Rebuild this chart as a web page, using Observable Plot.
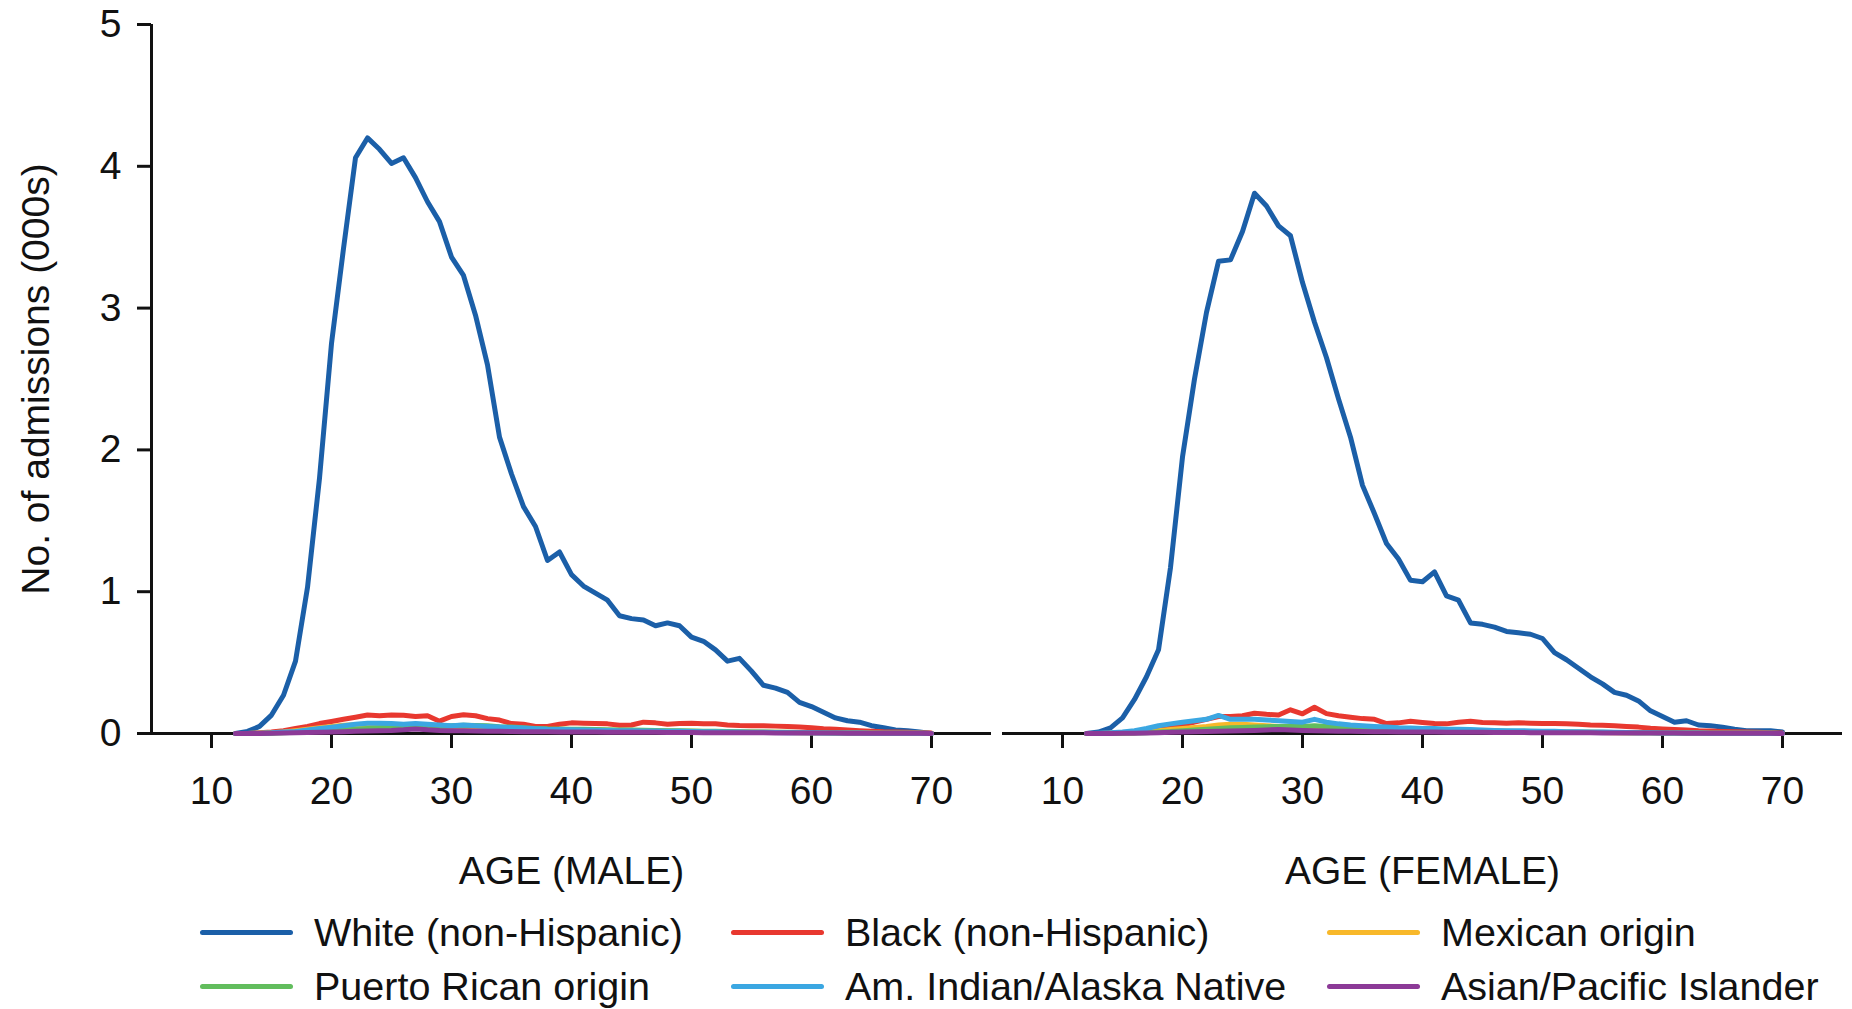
<!DOCTYPE html>
<html>
<head>
<meta charset="utf-8">
<script src="https://cdn.jsdelivr.net/npm/d3@7"></script>
<script src="https://cdn.jsdelivr.net/npm/@observablehq/plot@0.6"></script>
<style>
  html, body { margin: 0; padding: 0; background: #fff; }
  body { font-family: "Liberation Sans", Arial, Helvetica, sans-serif; color: #111; width: 1852px; }
  #chart svg { display: block; }
  #legend {
    display: grid;
    grid-template-columns: 531px 596px 1fr;
    grid-auto-rows: 54px;
    padding-left: 200px;
    padding-top: 10px;
    font-size: 39.5px;
  }
  #legend .item { display: flex; align-items: center; white-space: nowrap; line-height: 54px; }
  #legend .sw { display: inline-block; width: 93px; height: 5px; border-radius: 3px; margin-right: 21px; }
</style>
</head>
<body>
<div id="chart"></div>
<div id="legend"></div>
<script>
// ---- Data ----
const ages = [12,13,14,15,16,17,18,19,20,21,22,23,24,25,26,27,28,29,30,31,32,33,34,35,36,37,38,39,40,41,
              42,43,44,45,46,47,48,49,50,51,52,53,54,55,56,57,58,59,60,61,62,63,64,65,66,67,68,69,70];
const panels = ["MALE", "FEMALE"];
const groups = ["White (non-Hispanic)", "Black (non-Hispanic)", "Mexican origin",
                "Puerto Rican origin", "Am. Indian/Alaska Native", "Asian/Pacific Islander"];
const colors = ["#1b5fa8", "#e8382f", "#f8b82a", "#62bd5d", "#3ba7e2", "#8c3a97"];
const xTicks = [10, 20, 30, 40, 50, 60, 70];
const yTicks = [0, 1, 2, 3, 4, 5];
const xDomain = [5, 75];
const yDomain = [0, 5];

// values in thousands, ages 12..70
const maleWhite = [0,0.015,0.05,0.13,0.27,0.51,1.03,1.8,2.75,3.42,
  4.06,4.2,4.12,4.02,4.06,3.92,3.75,3.61,3.36,3.23,
  2.95,2.6,2.09,1.83,1.6,1.46,1.22,1.28,1.12,1.04,
  0.99,0.94,0.83,0.81,0.8,0.76,0.78,0.76,0.68,0.65,
  0.59,0.51,0.53,0.44,0.34,0.32,0.29,0.22,0.19,0.15,
  0.11,0.09,0.08,0.055,0.04,0.025,0.02,0.01,0];
const maleBlack = [0,0,0.005,0.01,0.02,0.035,0.05,0.07,0.085,0.1,
  0.115,0.13,0.125,0.13,0.128,0.12,0.125,0.087,0.12,0.132,
  0.125,0.105,0.095,0.07,0.065,0.05,0.05,0.065,0.075,0.072,
  0.07,0.068,0.058,0.06,0.08,0.075,0.065,0.07,0.072,0.068,
  0.068,0.06,0.056,0.055,0.055,0.052,0.05,0.045,0.04,0.033,
  0.03,0.025,0.02,0.016,0.012,0.01,0.008,0.005,0.003];
const maleMexican = [0,0,0.002,0.005,0.01,0.02,0.03,0.04,0.05,0.058,
  0.062,0.06,0.058,0.055,0.052,0.05,0.047,0.044,0.042,0.04,
  0.038,0.036,0.034,0.032,0.03,0.028,0.027,0.026,0.025,0.024,
  0.023,0.022,0.021,0.02,0.019,0.018,0.017,0.016,0.015,0.014,
  0.013,0.012,0.011,0.01,0.009,0.008,0.007,0.006,0.006,0.005,
  0.004,0.004,0.003,0.003,0.002,0.002,0.001,0.001,0];
const malePuertoRican = [0,0,0,0.002,0.005,0.008,0.012,0.016,0.02,0.025,
  0.03,0.035,0.04,0.045,0.048,0.052,0.055,0.05,0.055,0.058,
  0.056,0.054,0.048,0.045,0.04,0.036,0.033,0.032,0.03,0.03,
  0.028,0.027,0.025,0.024,0.023,0.022,0.02,0.019,0.018,0.016,
  0.015,0.014,0.012,0.011,0.01,0.009,0.008,0.007,0.006,0.005,
  0.004,0.004,0.003,0.002,0.002,0.001,0.001,0.001,0];
const maleAmIndian = [0,0,0.002,0.005,0.01,0.015,0.025,0.035,0.045,0.055,
  0.065,0.072,0.072,0.07,0.066,0.07,0.065,0.06,0.055,0.06,
  0.055,0.05,0.046,0.042,0.038,0.034,0.03,0.028,0.026,0.025,
  0.023,0.022,0.02,0.019,0.018,0.017,0.016,0.015,0.014,0.013,
  0.012,0.011,0.01,0.009,0.008,0.007,0.006,0.006,0.005,0.004,
  0.004,0.003,0.003,0.002,0.002,0.001,0.001,0.001,0];
const maleAsian = [0,0,0,0.002,0.003,0.005,0.007,0.009,0.011,0.013,
  0.015,0.018,0.02,0.022,0.026,0.032,0.026,0.022,0.02,0.02,
  0.018,0.016,0.015,0.014,0.013,0.012,0.012,0.011,0.01,0.01,
  0.01,0.009,0.009,0.008,0.008,0.008,0.007,0.007,0.007,0.006,
  0.006,0.006,0.005,0.005,0.005,0.004,0.004,0.004,0.003,0.003,
  0.003,0.002,0.002,0.002,0.002,0.001,0.001,0.001,0];

const femaleWhite = [0,0.01,0.04,0.11,0.24,0.4,0.59,1.17,1.95,2.5,
  2.97,3.33,3.34,3.54,3.81,3.72,3.58,3.51,3.18,2.9,
  2.65,2.36,2.09,1.75,1.55,1.34,1.23,1.08,1.07,1.14,
  0.97,0.94,0.78,0.77,0.75,0.72,0.71,0.7,0.67,0.57,
  0.52,0.46,0.4,0.35,0.29,0.27,0.23,0.16,0.12,0.08,
  0.09,0.06,0.055,0.045,0.03,0.02,0.02,0.02,0.01];
const femaleBlack = [0,0,0.002,0.005,0.01,0.02,0.03,0.045,0.06,0.08,
  0.1,0.12,0.12,0.125,0.143,0.135,0.13,0.167,0.139,0.185,
  0.14,0.125,0.115,0.105,0.1,0.07,0.075,0.087,0.078,0.07,
  0.068,0.08,0.087,0.078,0.075,0.073,0.075,0.073,0.07,0.07,
  0.068,0.065,0.06,0.058,0.055,0.05,0.045,0.037,0.032,0.028,
  0.025,0.02,0.017,0.014,0.012,0.01,0.008,0.005,0.003];
const femaleMexican = [0,0,0.001,0.003,0.006,0.012,0.02,0.028,0.035,0.043,
  0.05,0.06,0.065,0.065,0.06,0.055,0.05,0.046,0.043,0.042,
  0.038,0.035,0.032,0.03,0.028,0.026,0.024,0.022,0.02,0.019,
  0.018,0.017,0.016,0.015,0.014,0.013,0.012,0.011,0.01,0.01,
  0.009,0.008,0.008,0.007,0.006,0.006,0.005,0.005,0.004,0.004,
  0.003,0.003,0.002,0.002,0.002,0.001,0.001,0.001,0];
const femalePuertoRican = [0,0,0,0.002,0.004,0.006,0.01,0.014,0.02,0.025,
  0.03,0.035,0.04,0.042,0.045,0.048,0.05,0.052,0.05,0.055,
  0.05,0.046,0.04,0.036,0.034,0.03,0.028,0.026,0.025,0.024,
  0.022,0.02,0.019,0.018,0.017,0.016,0.014,0.013,0.012,0.011,
  0.01,0.009,0.008,0.008,0.007,0.006,0.005,0.005,0.004,0.004,
  0.003,0.003,0.002,0.002,0.001,0.001,0.001,0.001,0];
const femaleAmIndian = [0,0.002,0.005,0.01,0.02,0.035,0.055,0.068,0.08,0.09,
  0.1,0.127,0.1,0.1,0.1,0.095,0.09,0.085,0.08,0.1,
  0.08,0.068,0.06,0.055,0.05,0.045,0.04,0.038,0.035,0.035,
  0.03,0.03,0.028,0.025,0.022,0.02,0.02,0.018,0.016,0.015,
  0.013,0.012,0.01,0.01,0.008,0.007,0.006,0.005,0.004,0.004,
  0.003,0.003,0.002,0.002,0.002,0.001,0.001,0.001,0];
const femaleAsian = [0,0,0,0.001,0.002,0.004,0.006,0.008,0.01,0.012,
  0.014,0.016,0.018,0.02,0.022,0.025,0.028,0.025,0.022,0.02,
  0.018,0.016,0.015,0.014,0.013,0.012,0.011,0.01,0.01,0.01,
  0.009,0.009,0.008,0.008,0.007,0.007,0.007,0.006,0.006,0.006,
  0.005,0.005,0.005,0.004,0.004,0.004,0.003,0.003,0.003,0.003,
  0.002,0.002,0.002,0.002,0.001,0.001,0.001,0.001,0];

// ---- Build tidy table for Plot ----
const table = [
  ["MALE", groups[0], maleWhite], ["MALE", groups[1], maleBlack], ["MALE", groups[2], maleMexican],
  ["MALE", groups[3], malePuertoRican], ["MALE", groups[4], maleAmIndian], ["MALE", groups[5], maleAsian],
  ["FEMALE", groups[0], femaleWhite], ["FEMALE", groups[1], femaleBlack], ["FEMALE", groups[2], femaleMexican],
  ["FEMALE", groups[3], femalePuertoRican], ["FEMALE", groups[4], femaleAmIndian], ["FEMALE", groups[5], femaleAsian]
];
const rows = [];
for (const [sex, group, vals] of table) vals.forEach((v, i) => rows.push({sex, group, age: ages[i], value: v}));

const FONT = "Liberation Sans, Arial, Helvetica, sans-serif";
const FS = 39;
const chart = Plot.plot({
  width: 1852,
  height: 895,
  marginTop: 24,
  marginBottom: 162,
  marginLeft: 151,
  marginRight: 10,
  style: {fontFamily: FONT, fontSize: FS + "px", color: "#111", background: "#fff"},
  fx: {domain: panels, padding: 0.013, axis: null},
  x: {domain: xDomain, label: null},
  y: {domain: yDomain, label: null},
  color: {domain: groups, range: colors},
  marks: [
    Plot.axisX({ticks: xTicks, tickFormat: d => String(d), tickSize: 15, tickPadding: 28, strokeWidth: 3, label: null, fontSize: FS}),
    Plot.axisY({ticks: yTicks, tickFormat: d => String(d), tickSize: 14, tickPadding: 16, strokeWidth: 3, label: null, fontSize: FS}),
    Plot.ruleY([0], {strokeWidth: 3, stroke: "#111"}),
    Plot.ruleX([xDomain[0]], {y1: yDomain[0], y2: yDomain[1], fx: ["MALE"], strokeWidth: 3, stroke: "#111"}),
    Plot.line(rows, {x: "age", y: "value", z: "group", stroke: "group", fx: "sex", strokeWidth: 5, strokeLinejoin: "round"}),
    Plot.text(panels, {fx: d => d, text: d => `AGE (${d})`, frameAnchor: "bottom", dy: 150, fontSize: FS}),
    Plot.text(["No. of admissions (000s)"], {fx: ["MALE"], frameAnchor: "left", textAnchor: "middle", rotate: -90, dx: -115, fontSize: FS})
  ]
});
document.getElementById("chart").appendChild(chart);

// ---- Legend (line swatches) ----
const legend = document.getElementById("legend");
groups.forEach((g, i) => {
  const item = document.createElement("div");
  item.className = "item";
  const sw = document.createElement("span");
  sw.className = "sw";
  sw.style.background = colors[i];
  const label = document.createElement("span");
  label.textContent = g;
  item.appendChild(sw);
  item.appendChild(label);
  legend.appendChild(item);
});
</script>
</body>
</html>
